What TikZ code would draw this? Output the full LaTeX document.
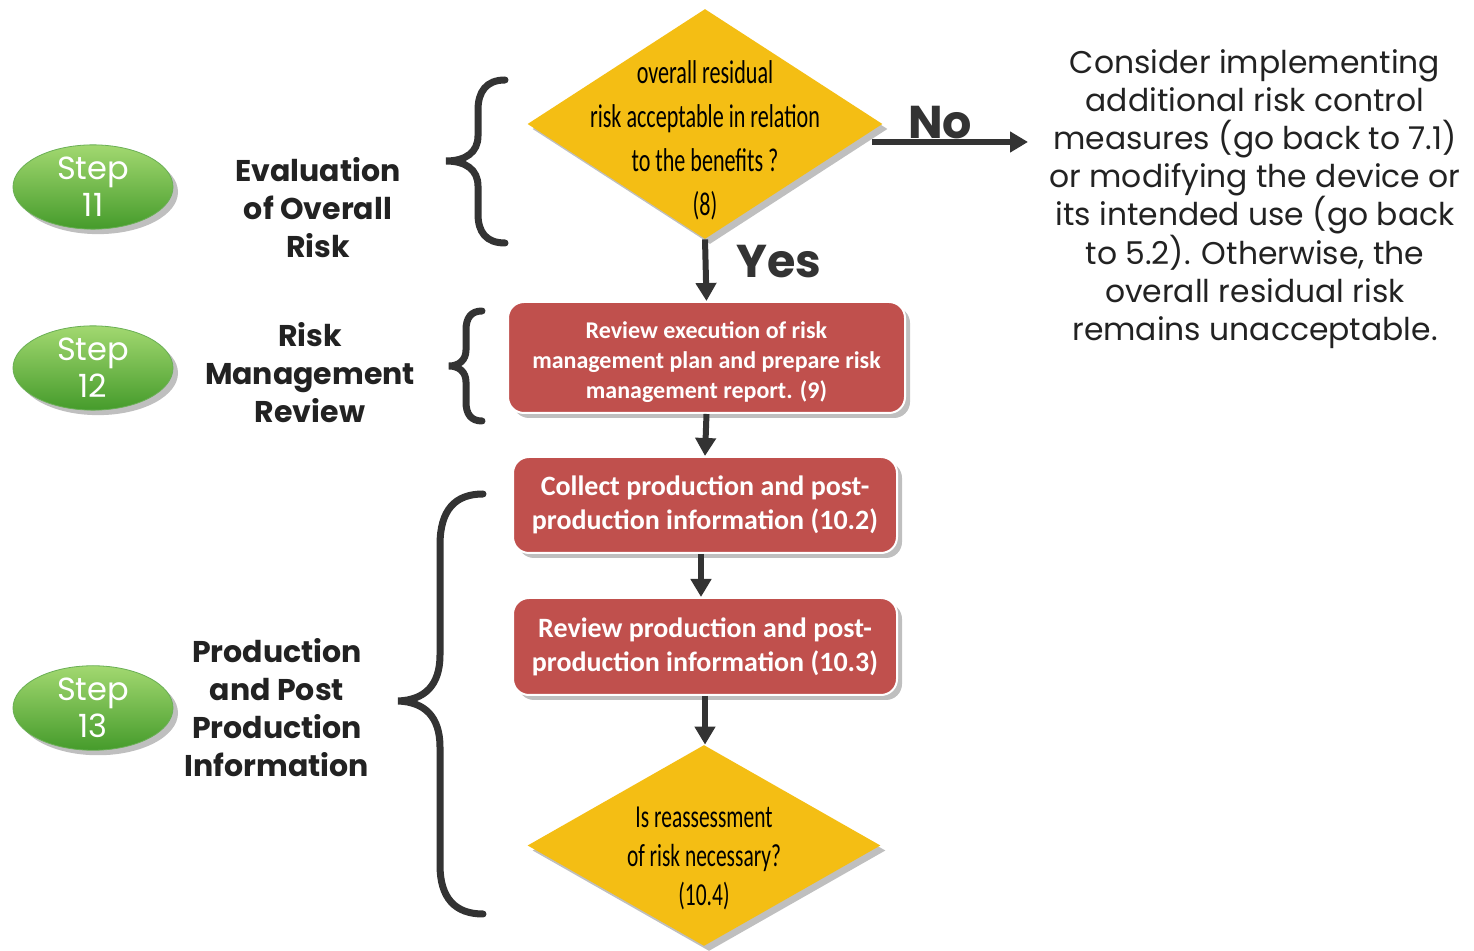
\documentclass[tikz,border=0pt]{standalone}
\usepackage{fontspec}
\setmainfont{Poppins}
\newfontfamily\condfont[FakeStretch=0.67]{Carlito}
\newfontfamily\califont{Carlito}
\usetikzlibrary{shapes.geometric,shadows,arrows.meta,calc}

\definecolor{gold}{HTML}{F4BE14}
\definecolor{boxred}{HTML}{C0504D}
\definecolor{ink}{HTML}{333333}
\definecolor{greentop}{HTML}{A2D870}
\definecolor{greenbot}{HTML}{459B2B}
\definecolor{textdark}{HTML}{222222}

\tikzset{
  softshadow/.style={drop shadow={shadow xshift=2.5pt,shadow yshift=-2.5pt,fill=black,opacity=0.25}},
  stepnode/.style={ellipse, minimum width=80pt, minimum height=42pt, inner sep=0pt,
    top color=greentop, bottom color=greenbot, draw=greenbot!80!white, line width=0.4pt,
    text=white, align=center, font=\fontsize{16}{18.5}\selectfont, softshadow},
  phase/.style={align=center, text=textdark, font=\bfseries\fontsize{15}{19}\selectfont},
  decision/.style={diamond, fill=gold, minimum width=177.5pt, minimum height=115pt,
    inner sep=0pt, softshadow},
  decisiontext/.style={align=center, text=black, font=\condfont\fontsize{16.5}{22}\selectfont},
  task/.style={rectangle, rounded corners=8pt, fill=boxred, draw=white, line width=1pt,
    text=white, align=center, softshadow},
  flow/.style={draw=ink, line width=3pt, -{Triangle[width=10pt,length=9pt]}},
  brace/.style={draw=ink, line width=3.5pt, line cap=round},
  answer/.style={text=ink, font=\bfseries\fontsize{23}{26}\selectfont},
}

\begin{document}
\begin{tikzpicture}[x=0.5pt,y=-0.5pt]
\useasboundingbox[fill=white] (0,0) rectangle (1474,951);

% step badges
\node[stepnode] (s11) at (93,187) {Step\\11};
\node[stepnode] (s12) at (93,368) {Step\\12};
\node[stepnode] (s13) at (93,708) {Step\\13};

% phase titles
\node[phase] (p11) at (318,208) {Evaluation\\of Overall\\Risk};
\node[phase] (p12) at (310,373) {Risk\\Management\\Review};
\node[phase] (p13) at (277,708) {Production\\and Post\\Production\\Information};

% braces grouping the flow steps
\draw[brace] (505,80) .. controls (486,80) and (478,92) .. (478,110) -- (478,136)
  .. controls (478,152) and (466,161) .. (446,161)
  .. controls (466,161) and (478,170) .. (478,186) -- (478,214)
  .. controls (478,232) and (486,243) .. (505,243);
\draw[brace] (482,311) .. controls (471,311) and (466,318) .. (466,330) -- (466,350)
  .. controls (466,360) and (459,366) .. (449,366)
  .. controls (459,366) and (466,372) .. (466,382) -- (466,402)
  .. controls (466,414) and (471,421) .. (482,421);
\draw[brace] (483,494) .. controls (455,494) and (440,510) .. (440,545) -- (440,655)
  .. controls (440,685) and (425,700) .. (398,701)
  .. controls (425,702) and (440,717) .. (440,747) -- (440,865)
  .. controls (440,898) and (455,914) .. (483,914);

% decision 8
\node[decision] (d1) at (705,124) {};
\node[decisiontext] (d1t) at (705,140) {overall residual\\risk acceptable in relation\\to the benefits ?\\(8)};

% task boxes
\node[task, minimum width=198.5pt, minimum height=55.5pt,
      font=\califont\bfseries\fontsize{12}{15}\selectfont] (b1) at (706.5,357.5)
  {\rule{0pt}{13pt}Review execution of risk\\management plan and prepare risk\\management report. (9)};
\node[task, minimum width=192pt, minimum height=48pt,
      font=\califont\bfseries\fontsize{14}{17}\selectfont] (b2) at (705,505)
  {Collect production and post-\\production information (10.2)};
\node[task, minimum width=192pt, minimum height=48.5pt,
      font=\califont\bfseries\fontsize{14}{17}\selectfont] (b3) at (705,646.5)
  {Review production and post-\\production information (10.3)};

% decision 10.4
\node[decision, minimum width=176.5pt, minimum height=100.5pt] (d2) at (704,845.5) {};
\node[decisiontext, font=\condfont\fontsize{16}{19.5}\selectfont] (d2t) at (704,858)
  {Is reassessment\\of risk necessary?\\(10.4)};

% outcome text for the "No" branch
\node[align=center, text=textdark, font=\fontsize{15.7}{19.1}\selectfont] (alt) at (1255,199)
  {Consider implementing\\additional risk control\\measures (go back to 7.1)\\or modifying the device or\\its intended use (go back\\to 5.2). Otherwise, the\\overall residual risk\\remains unacceptable.};

% connectors
\coordinate (nostart) at ($(d1.east)+(-11,18)$);
\coordinate (noend) at (1028,142);
\draw[flow] (nostart) -- (noend);
\node[answer] (no) at (940,123) {No};
\node[answer] (yes) at (779,262) {Yes};

\draw[flow] (d1.south) -- (b1.north);
\draw[flow] (b1.south) -- (b2.north);
\draw[flow] ($(b2.south)+(-4,0)$) -- ($(b3.north)+(-4,0)$);
\draw[flow] (b3.south) -- ($(d2.north)+(1,0)$);
\end{tikzpicture}
\end{document}
